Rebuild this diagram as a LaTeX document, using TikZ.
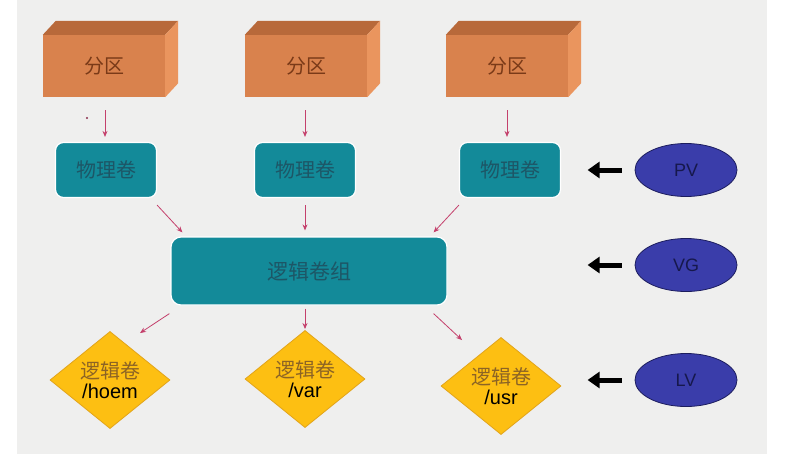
\documentclass[tikz,border=0pt]{standalone}
\usepackage{fontspec}
\setmainfont{Liberation Sans}
\newfontfamily\cjk{Noto Sans CJK SC}
\usetikzlibrary{shapes.geometric,arrows.meta}
\definecolor{bggray}{HTML}{EFEFEE}
\definecolor{brfront}{HTML}{D9824D}
\definecolor{brtop}{HTML}{B8693A}
\definecolor{brside}{HTML}{EA955E}
\definecolor{brtext}{HTML}{7A3A18}
\definecolor{tealfill}{HTML}{138A99}
\definecolor{tealtext}{HTML}{1D5666}
\definecolor{yellowfill}{HTML}{FDBF12}
\definecolor{yellowline}{HTML}{E2A41A}
\definecolor{yellowtext}{HTML}{8C6425}
\definecolor{bluefill}{HTML}{3A3DAA}
\definecolor{blueline}{HTML}{1C1D5E}
\definecolor{bluetext}{HTML}{16184C}
\definecolor{pinkarrow}{HTML}{C4406C}
\tikzset{
  front/.style={rectangle, fill=brfront, minimum width=122pt, minimum height=62pt, inner sep=0pt,
    font=\cjk\fontsize{20}{22}\selectfont, text=brtext},
  pvbox/.style={rectangle, rounded corners=8pt, fill=tealfill, draw=white, line width=1.2pt,
    minimum width=101pt, minimum height=55pt, font=\cjk\fontsize{20}{22}\selectfont, text=tealtext},
  vgbox/.style={rectangle, rounded corners=10pt, fill=tealfill, draw=white, line width=1.2pt,
    minimum width=276pt, minimum height=68pt, font=\cjk\fontsize{21}{23}\selectfont, text=tealtext},
  lvdia/.style={diamond, fill=yellowfill, draw=yellowline, line width=0.8pt,
    minimum width=120pt, minimum height=95pt, inner sep=0pt, align=center},
  tag/.style={ellipse, fill=bluefill, draw=blueline, line width=0.8pt,
    minimum width=102pt, minimum height=53pt, font=\fontsize{18}{20}\selectfont, text=bluetext},
  link/.style={draw=pinkarrow, line width=0.8pt, -{Stealth[length=6pt,width=5pt]}},
  bigarrow/.style={draw=black, line width=5pt, -{Triangle[length=12pt,width=16pt]}},
}
\newcommand{\lvtext}[1]{{\cjk\fontsize{20}{22}\selectfont\color{yellowtext}逻辑卷}\\[3pt]{\fontsize{20}{22}\selectfont\color{black}#1}}
\begin{document}
\begin{tikzpicture}[x=1pt,y=-1pt]
\useasboundingbox (0,0) rectangle (786,464);
\fill[bggray] (17,0) rectangle (767,454);
% partitions
\foreach \n/\x in {p1/104,p2/306,p3/507}{
  \node[front] (\n) at (\x,66) {分区};
  \fill[brtop] (\n.north west) -- ++(13,-14) -- ([shift={(13,-14)}]\n.north east) -- (\n.north east) -- cycle;
  \fill[brside] (\n.north east) -- ++(13,-14) -- ([shift={(13,-14)}]\n.south east) -- (\n.south east) -- cycle;
}
\fill[pinkarrow!70!black] (87,118) circle (1.2pt);
% physical volumes
\node[pvbox] (v1) at (106,170) {物理卷};
\node[pvbox] (v2) at (305,170) {物理卷};
\node[pvbox] (v3) at (510,170) {物理卷};
% volume group
\node[vgbox] (vg) at (309,271) {逻辑卷组};
% logical volumes
\node[lvdia] (l1) at (110,380) {\lvtext{/hoem}};
\node[lvdia] (l2) at (305,379) {\lvtext{/var}};
\node[lvdia] (l3) at (501,386) {\lvtext{/usr}};
% tags
\node[tag] (tpv) at (686,170) {PV};
\node[tag] (tvg) at (686,265) {VG};
\node[tag] (tlv) at (686,380) {LV};
% connectors
\draw[link] ([shift={(1,13)}]p1.south) -- ([shift={(-1,-5)}]v1.north);
\draw[link] ([shift={(-1,13)}]p2.south) -- ([shift={(0,-5)}]v2.north);
\draw[link] ([shift={(0,13)}]p3.south) -- ([shift={(-3,-5)}]v3.north);
\draw[link] ([shift={(0,7)}]v1.south east) -- ([shift={(12,-4)}]vg.north west);
\draw[link] ([shift={(0,7)}]v2.south) -- ([shift={(0,-6)}]v2.south |- vg.north);
\draw[link] ([shift={(0,7)}]v3.south west) -- ([shift={(-14,-4)}]vg.north east);
\draw[link] ([shift={(-1,8)}]vg.south west) -- ([shift={(30,2)}]l1.north);
\draw[link] ([shift={(0,3)}]vg.south -| l2.north) -- ([shift={(0,-1)}]l2.north);
\draw[link] ([shift={(-14,8)}]vg.south east) -- ([shift={(-39,3)}]l3.north);
\draw[bigarrow] ([xshift=-13pt]tpv.west) -- ++(-34,0);
\draw[bigarrow] ([xshift=-13pt]tvg.west) -- ++(-34,0);
\draw[bigarrow] ([xshift=-13pt]tlv.west) -- ++(-34,0);
\end{tikzpicture}
\end{document}
